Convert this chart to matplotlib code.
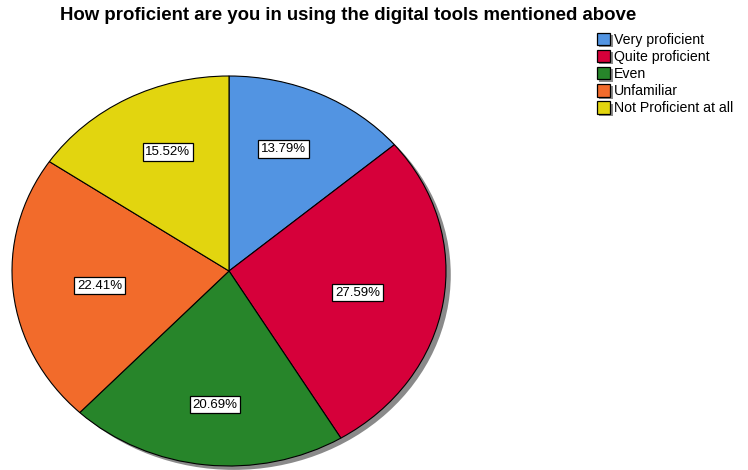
import matplotlib
matplotlib.use("Agg")
import numpy as np
import matplotlib.pyplot as plt
import matplotlib.patheffects as pe
from matplotlib.patches import Ellipse, Patch

plt.rcParams['font.family'] = ['Liberation Sans', 'DejaVu Sans']

categories = ["Very proficient", "Quite proficient", "Even", "Unfamiliar", "Not Proficient at all"]
percentages = [13.79, 27.59, 20.69, 22.41, 15.52]
colors = ["#5294E2", "#D6003A", "#27852A", "#F26B2B", "#E2D50F"]
title = "How proficient are you in using the digital tools mentioned above"

fig = plt.figure(figsize=(7.48, 4.70), dpi=100)
W, H = 748, 470
cx, cy, rx, ry = 229, 271, 217, 195
ax = fig.add_axes([(cx - rx) / W, (H - cy - ry) / H, 2 * rx / W, 2 * ry / H])

# drop shadow behind the pie
ax.add_patch(Ellipse((0.022, -0.02), 2, 2, facecolor="#8a8a8a", edgecolor="none",
                     zorder=0, clip_on=False))

wedges, texts, autotexts = ax.pie(
    percentages, colors=colors, startangle=90, counterclock=False,
    autopct=lambda p: f"{p:.2f}%", pctdistance=0.63,
    wedgeprops=dict(edgecolor="black", linewidth=0.8),
    textprops=dict(fontsize=9.5, color="black"),
)
for w, t in zip(wedges, autotexts):
    w.set_zorder(2)
    w.set_clip_on(False)
    mid = np.deg2rad((w.theta1 + w.theta2) / 2)
    t.set_position((0.6 * np.cos(mid), 0.69 * np.sin(mid)))
    t.set_zorder(3)
    t.set_bbox(dict(boxstyle="square,pad=0.2", facecolor="white", edgecolor="black", linewidth=0.9))

ax.set_aspect("auto")
ax.set_xlim(-1, 1)
ax.set_ylim(-1, 1)
ax.axis("off")

fig.text(348 / W, 1 - 16 / H, title, ha="center", va="center", fontsize=13.4, fontweight="bold")

handles = [
    Patch(facecolor=c, edgecolor="black", linewidth=0.9,
          path_effects=[pe.SimplePatchShadow(offset=(1.5, -1.5), shadow_rgbFace="#8a8a8a", alpha=1), pe.Normal()])
    for c in colors
]
leg = fig.legend(handles, categories, loc="upper left", bbox_to_anchor=(597 / W, 1 - 33 / H),
                 frameon=False, fontsize=10.2, handlelength=0.95, handleheight=0.95,
                 handletextpad=0.25, labelspacing=0.22, borderpad=0, borderaxespad=0)

fig.savefig("out.png", dpi=100, facecolor="white")
